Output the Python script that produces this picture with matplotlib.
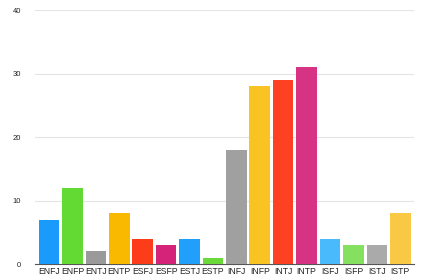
import numpy as np
import matplotlib.pyplot as plt

plt.rcParams['font.family'] = ['Liberation Sans', 'DejaVu Sans']

# data
types = ['ENFJ', 'ENFP', 'ENTJ', 'ENTP', 'ESFJ', 'ESFP', 'ESTJ', 'ESTP',
         'INFJ', 'INFP', 'INTJ', 'INTP', 'ISFJ', 'ISFP', 'ISTJ', 'ISTP']
counts = [7, 12, 2, 8, 4, 3, 4, 1, 18, 28, 29, 31, 4, 3, 3, 8]
colors = ['#1a9bfc', '#63d934', '#9a9a9a', '#f8b900', '#fd3c19', '#d6237a',
          '#20a0fa', '#6bd93a', '#a0a0a0', '#f9c423', '#fe4123', '#d63384',
          '#49bafc', '#86e060', '#aaaaaa', '#f9c844']
yticks = [0, 10, 20, 30, 40]

fig = plt.figure(figsize=(4.37, 2.8), dpi=100)
ax = fig.add_axes([0.08, 0.057, 0.868, 0.907])

x = np.arange(len(types))
ax.bar(x, counts, width=0.88, color=colors, zorder=3)

ax.set_xlim(-0.6, len(types) - 0.4)
ax.set_ylim(0, 40)
ax.set_yticks(yticks)
ax.set_xticks(x)
ax.set_xticklabels(types)
ax.grid(axis='y', color='#e4e4e4', linewidth=0.8, zorder=0)
for s in ['top', 'right', 'left']:
    ax.spines[s].set_visible(False)
ax.spines['bottom'].set_color('#555555')
ax.spines['bottom'].set_linewidth(0.8)
ax.tick_params(axis='both', length=0, labelsize=6.2, colors='#222222')
ax.tick_params(axis='y', pad=10, labelsize=5.5)
ax.tick_params(axis='x', pad=2)

fig.savefig('out.png', dpi=100)
